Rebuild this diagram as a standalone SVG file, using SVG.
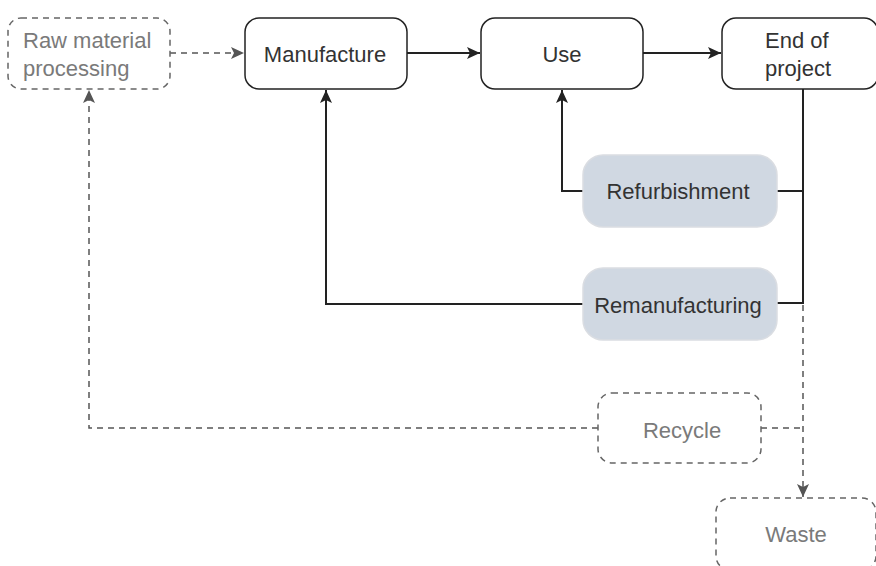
<svg xmlns="http://www.w3.org/2000/svg" width="876" height="566" viewBox="0 0 876 566">
  <defs>
    <style>
      .box { fill: #ffffff; stroke: #222222; stroke-width: 1.5; }
      .dbox { fill: #ffffff; stroke: #666666; stroke-width: 1.5; stroke-dasharray: 6 5; }
      .gbox { fill: #d0d8e2; stroke: #dadde2; stroke-width: 1.5; }
      .t { font-family: "Liberation Sans", Arial, sans-serif; font-size: 22px; fill: #333333; }
      .dt { font-family: "Liberation Sans", Arial, sans-serif; font-size: 22px; fill: #7a7a7a; }
      .c { text-anchor: middle; }
      .link { fill: none; stroke: #222222; stroke-width: 2; }
      .dlink { fill: none; stroke: #555555; stroke-width: 1.5; stroke-dasharray: 6 5; }
    </style>
    <marker id="arrowSolid" markerUnits="userSpaceOnUse" markerWidth="15" markerHeight="13" refX="13" refY="6" orient="auto">
      <path d="M0,0 L13,6 L0,12 L3,6 z" fill="#222222"/>
    </marker>
    <marker id="arrowDash" markerUnits="userSpaceOnUse" markerWidth="15" markerHeight="13" refX="13" refY="6" orient="auto">
      <path d="M0,0 L13,6 L0,12 L3,6 z" fill="#555555"/>
    </marker>
  </defs>

  <g id="connectors">
    <path class="dlink" d="M170,53 H244" marker-end="url(#arrowDash)"/>
    <path class="link" d="M407,53 H480" marker-end="url(#arrowSolid)"/>
    <path class="link" d="M643,53 H721" marker-end="url(#arrowSolid)"/>
    <path class="link" d="M583,191 H562 V90" marker-end="url(#arrowSolid)"/>
    <path class="link" d="M583,304 H326 V90" marker-end="url(#arrowSolid)"/>
    <path class="link" d="M803,89 V304"/>
    <path class="link" d="M777,191 H803"/>
    <path class="link" d="M777,303 H803"/>
    <path class="dlink" d="M803,305 V497" marker-end="url(#arrowDash)"/>
    <path class="dlink" d="M761,428 H803"/>
    <path class="dlink" d="M598,428 H89 V90" marker-end="url(#arrowDash)"/>
  </g>

  <g id="raw-material">
    <rect class="dbox" x="8" y="18" width="162" height="71" rx="13"/>
    <text class="dt" x="23" y="48">Raw material</text>
    <text class="dt" x="23" y="76">processing</text>
  </g>

  <g id="manufacture">
    <rect class="box" x="245" y="18" width="162" height="71" rx="14"/>
    <text class="t c" x="325" y="62">Manufacture</text>
  </g>

  <g id="use">
    <rect class="box" x="481" y="18" width="162" height="71" rx="14"/>
    <text class="t c" x="562" y="62">Use</text>
  </g>

  <g id="end-of-project">
    <rect class="box" x="722" y="18" width="156" height="71" rx="14"/>
    <text class="t" x="765" y="48">End of</text>
    <text class="t" x="765" y="76">project</text>
  </g>

  <g id="refurbishment">
    <rect class="gbox" x="583" y="155" width="194" height="72" rx="20"/>
    <text class="t c" x="678" y="199">Refurbishment</text>
  </g>

  <g id="remanufacturing">
    <rect class="gbox" x="583" y="268" width="194" height="72" rx="20"/>
    <text class="t c" x="678" y="313">Remanufacturing</text>
  </g>

  <g id="recycle">
    <rect class="dbox" x="598" y="393" width="163" height="70" rx="14"/>
    <text class="dt c" x="682" y="438">Recycle</text>
  </g>

  <g id="waste">
    <rect class="dbox" x="716" y="498" width="160" height="72" rx="14"/>
    <text class="dt c" x="796" y="542">Waste</text>
  </g>
</svg>
